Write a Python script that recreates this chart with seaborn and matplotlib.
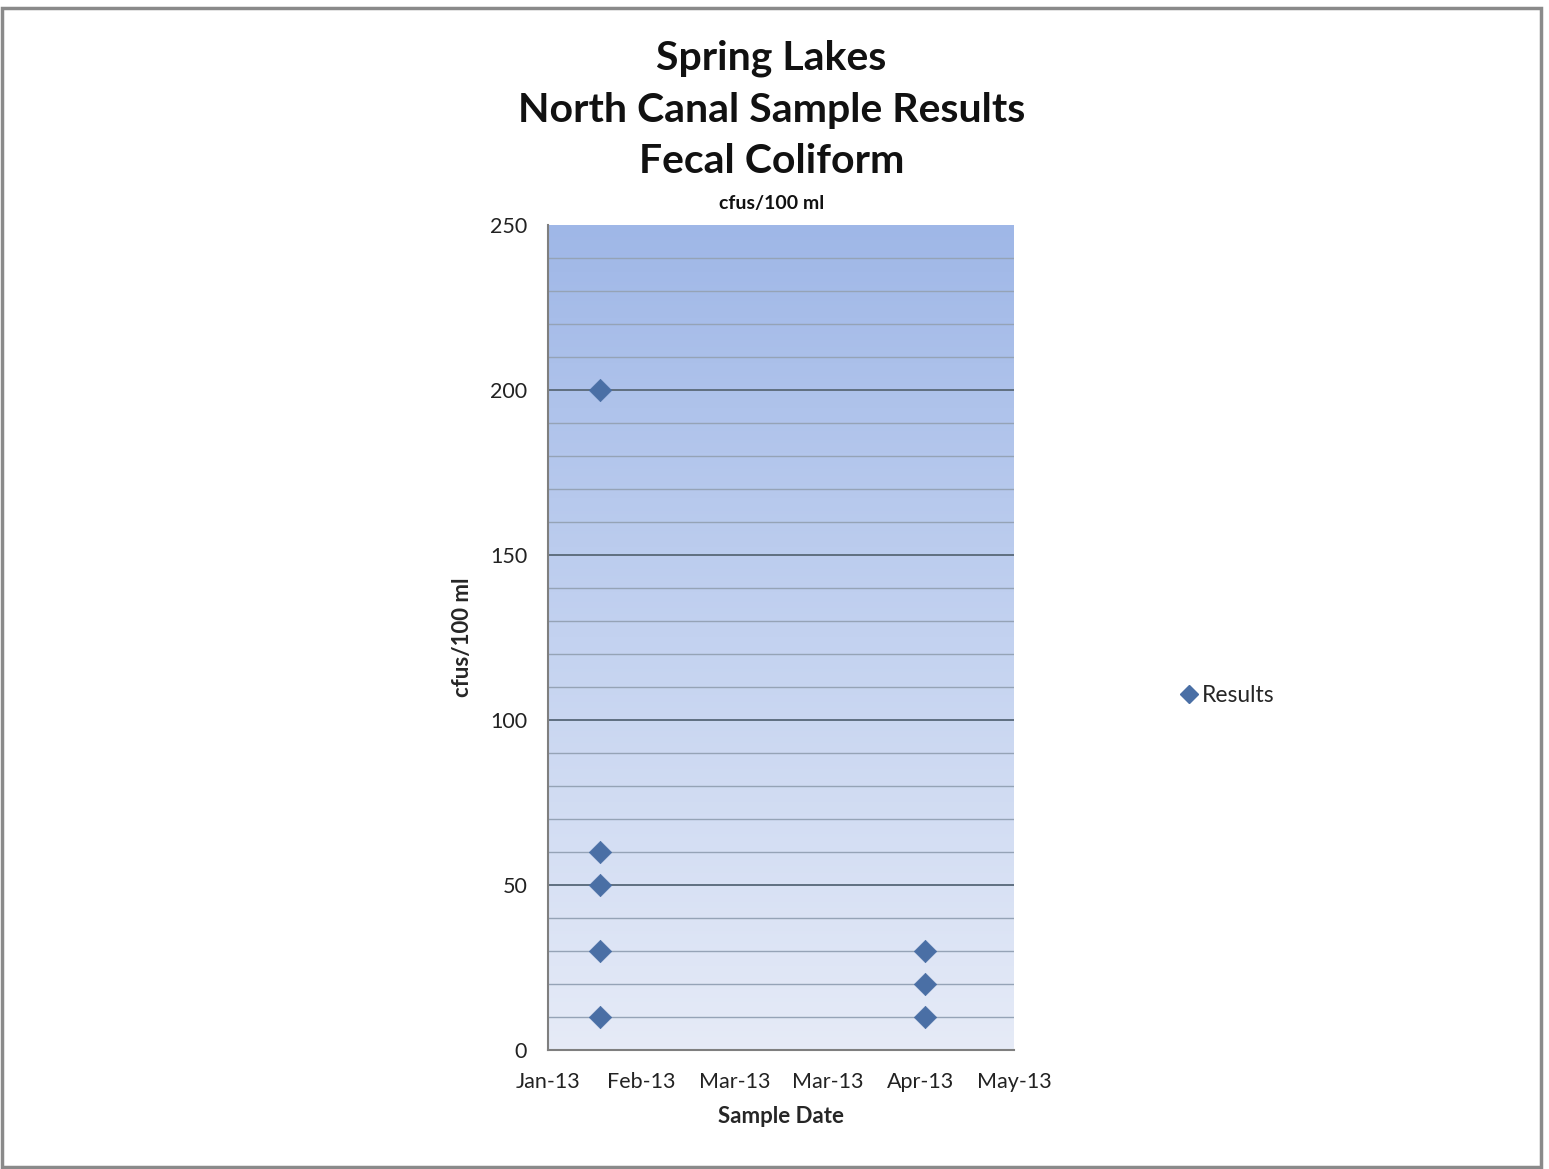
import numpy as np
import pandas as pd
import matplotlib
matplotlib.use("Agg")
import matplotlib.pyplot as plt
import seaborn as sns
from matplotlib.colors import LinearSegmentedColormap
from matplotlib.lines import Line2D

# ---- data ----
sample_day = [16.7, 16.7, 16.7, 16.7, 16.7, 121.4, 121.4, 121.4]   # days from axis start
results = [200, 60, 50, 30, 10, 30, 20, 10]
x_tick_pos = [0, 30, 60, 90, 120, 150]
x_tick_labels = ["Jan-13", "Feb-13", "Mar-13", "Mar-13", "Apr-13", "May-13"]
y_ticks = [0, 50, 100, 150, 200, 250]

df = pd.DataFrame({"Sample Date": sample_day, "Results": results})

sns.set_theme(style="white")
plt.rcParams["font.family"] = ["Lato", "DejaVu Sans"]

fig = plt.figure(figsize=(15.49, 11.69), dpi=100)
ax = fig.add_axes([548/1549, 1-1050/1169, (1014-548)/1549, (1050-225)/1169])

# gradient background
cmap = LinearSegmentedColormap.from_list("bg", ["#e6ebf7", "#c3d2f0", "#9fb7e7"])
grad = np.linspace(0, 1, 256).reshape(-1, 1)
ax.imshow(grad, extent=[0, 150, 0, 250], origin="lower", aspect="auto",
          cmap=cmap, zorder=0)

# grid lines
for v in range(10, 250, 10):
    if v % 50 == 0:
        ax.axhline(v, color="#5f6f80", lw=1.4, zorder=1)
    else:
        ax.axhline(v, color="#95a3b6", lw=1.0, zorder=1)

sns.scatterplot(data=df, x="Sample Date", y="Results", marker="D", s=130,
                color="#4a6fa5", edgecolor="#4a6fa5", linewidth=0.5,
                ax=ax, zorder=3, legend=False)

ax.set_xlim(0, 150)
ax.set_ylim(0, 250)
ax.set_xticks(x_tick_pos)
ax.set_xticklabels(x_tick_labels, fontsize=15.5, color="#222222")
ax.set_yticks(y_ticks)
ax.set_yticklabels([str(v) for v in y_ticks], fontsize=15.5, color="#222222")
ax.tick_params(axis="x", length=0, pad=16)
ax.tick_params(axis="y", length=0, pad=15)

for s in ["top", "right"]:
    ax.spines[s].set_visible(False)
for s in ["left", "bottom"]:
    ax.spines[s].set_color("#7f7f7f")
    ax.spines[s].set_linewidth(1.5)

ax.set_xlabel("Sample Date", fontsize=16, fontweight="bold", labelpad=10)
ax.set_ylabel("cfus/100 ml", fontsize=16, fontweight="bold", labelpad=12)

fig.text(0.498, 1-110/1169, "Spring Lakes\nNorth Canal Sample Results\nFecal Coliform",
         ha="center", va="center", fontsize=29.5, fontweight="bold",
         linespacing=1.48, color="#111111")
fig.text(0.498, 1-204/1169, "cfus/100 ml", ha="center", va="center",
         fontsize=14, fontweight="bold", color="#111111")

# legend
h = Line2D([], [], marker="D", linestyle="none", color="#4a6fa5", markersize=9)
fig.legend([h], ["Results"], loc="center left", bbox_to_anchor=(1180/1549, 1-696/1169),
           frameon=False, fontsize=16.5, handletextpad=0.15, handlelength=0.8,
           borderaxespad=0, borderpad=0)

# outer border
fig.patches.append(plt.Rectangle((2/1549, 0.002), 1539/1549, 1-8/1169-0.002,
                                 transform=fig.transFigure, fill=False,
                                 edgecolor="#8a8a8a", lw=2.5))

fig.savefig("out.png", dpi=100, facecolor="white")
